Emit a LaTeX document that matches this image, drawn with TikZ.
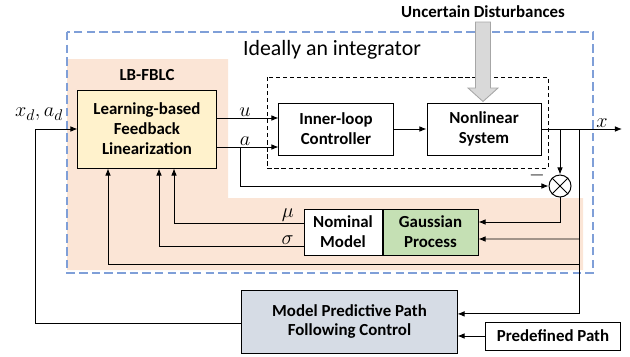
\documentclass[tikz,border=0pt]{standalone}
\usepackage{fontspec}
\setmainfont{Carlito}
\usetikzlibrary{arrows.meta, positioning, calc}
\definecolor{fblcpeach}{HTML}{FBE5D6}
\definecolor{fblcyellow}{HTML}{FFF2CC}
\definecolor{gpgreen}{HTML}{C5E0B4}
\definecolor{mpcblue}{HTML}{D6DCE5}
\definecolor{loopblue}{HTML}{7F9FD8}
\definecolor{distgray}{HTML}{D9D9D9}
\definecolor{distedge}{HTML}{A6A6A6}

\begin{document}
\begin{tikzpicture}[
    x=0.025cm, y=-0.025cm,
    block/.style={draw, line width=0.7pt, align=center, inner sep=2pt,
                  font=\bfseries\fontsize{12}{14.2}\selectfont},
    arrow/.style={-{Latex[length=5pt,width=4pt]}, line width=0.6pt},
    sig/.style={font=\fontsize{15}{18}\selectfont, inner sep=1pt}
  ]
    \useasboundingbox (0,0) rectangle (630,356);

    % shaded LB-FBLC region and the ideal-integrator frame
    \fill[fblcpeach] (67,59) -- (228,59) -- (228,198) -- (583,198)
      -- (583,270) -- (67,270) -- cycle;
    \draw[loopblue, line width=0.9pt, dash pattern=on 6pt off 3pt]
      (67,32) rectangle (593,273);
    \draw[densely dashed, line width=0.5pt] (267,77) rectangle (548,168);

    \node[font=\fontsize{15.5}{18}\selectfont] (ideal) at (332,50)
      {Ideally an integrator};
    \node[font=\bfseries\fontsize{12}{14}\selectfont] (fblc) at (147,75)
      {LB-FBLC};

    \node[block, fill=fblcyellow, minimum width=3.45cm, minimum height=1.95cm]
      (lb) at (147,129) {Learning-based\\Feedback\\Linearization};
    \node[block, fill=white, minimum width=2.85cm, minimum height=1.3cm]
      (ilc) at (336,129) {Inner-loop\\Controller};
    \node[block, fill=white, minimum width=2.85cm, minimum height=1.3cm]
      (nls) at (484,129) {Nonlinear\\System};
    \node[block, fill=white, minimum width=1.95cm, minimum height=1.15cm]
      (nom) at (343,232) {Nominal\\Model};
    \node[block, fill=gpgreen, minimum width=2.375cm, minimum height=1.15cm,
      right=0pt of nom] (gp) {Gaussian\\Process};
    \node[block, fill=mpcblue, minimum width=5.375cm, minimum height=1.575cm]
      (mpc) at (349.5,321.5) {Model Predictive Path\\Following Control};
    \node[block, fill=white, minimum width=3.35cm, minimum height=0.7cm]
      (pp) at (553,336) {Predefined Path};
    \node[draw, circle, line width=0.7pt, minimum size=0.55cm, fill=white]
      (sum) at (560,186) {};
    \draw[line width=0.7pt] (sum.north west) -- (sum.south east)
      (sum.north east) -- (sum.south west);
    \node[sig] (minus) at (537,175) {$-$};

    % disturbance input
    \node[font=\bfseries\fontsize{12}{14}\selectfont] (dist) at (483,12)
      {Uncertain Disturbances};
    \draw[draw=distedge, fill=distgray, line width=0.6pt]
      (475.5,22) -- (490.5,22) -- (490.5,88) -- (498,88) -- (483,101.5)
      -- (468,88) -- (475.5,88) -- cycle;

    % forward path
    \draw[arrow] ([yshift=0.275cm]lb.east) -- ([yshift=0.275cm]ilc.west)
      node[sig, pos=0.46, above] {$u$};
    \draw[arrow] ([yshift=-0.45cm]lb.east) -- ([yshift=-0.45cm]ilc.west)
      node[sig, pos=0.46, above] {$a$};
    \draw[arrow] (ilc) -- (nls);
    \coordinate (xout) at (622,129);
    \draw[arrow] (nls.east) -- (xout) node[sig, pos=0.75, above] {$x$};

    % error and learning branch
    \coordinate (abr) at (240,147);
    \draw[arrow] (abr) |- (sum.west);
    \draw[arrow] (sum.north |- nls.east) -- (sum.north);
    \draw[arrow] (sum.south) |- ([yshift=0.25cm]gp.east);
    \coordinate (xbr) at (579,129);
    \coordinate (gpbr) at (579,239);
    \coordinate (fbbr) at (579,264);
    \draw[arrow] (gpbr) -- ([yshift=-0.175cm]gp.east);
    \draw[arrow] ([yshift=0.225cm]nom.west) -| ([xshift=0.675cm]lb.south)
      node[sig, pos=0.06, above] {$\mu$};
    \draw[arrow] ([yshift=-0.35cm]nom.west) -| ([xshift=0.3cm]lb.south)
      node[sig, pos=0.055, above] {$\sigma$};
    \draw[arrow] (fbbr) -| ([xshift=-0.975cm]lb.south);

    % outer path-following loop
    \draw[arrow] (xbr) |- ([yshift=0.19cm]mpc.east);
    \draw[arrow] (pp.west) -- (pp.west -| mpc.east);
    \coordinate (lft) at (35,129);
    \draw[arrow] ([yshift=-0.04cm]mpc.west) -| (lft) -- (lb.west);
    \node[sig] (xref) at (39,114) {$x_d, a_d$};
  \end{tikzpicture}
\end{document}
